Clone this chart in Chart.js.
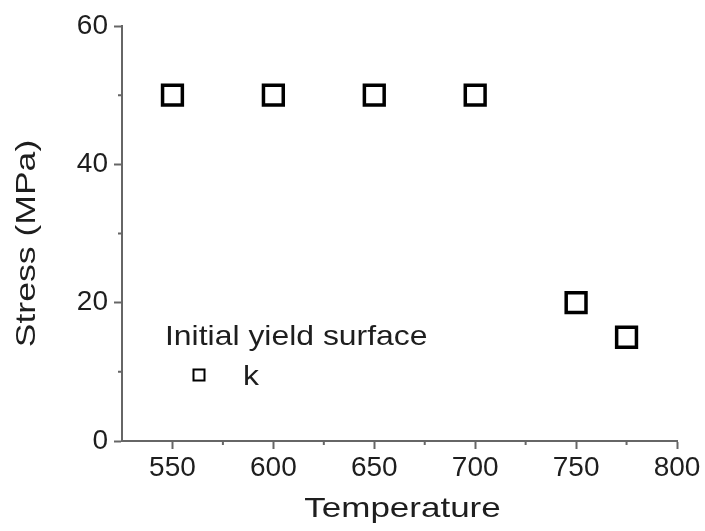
<!DOCTYPE html>
<html>
<head>
<meta charset="utf-8">
<script src="https://cdn.jsdelivr.net/npm/chart.js@4/dist/chart.umd.min.js"></script>
<style>
  body { margin: 0; background: #fff; }
  canvas { display: block; }
</style>
</head>
<body>
<canvas id="chart" width="705" height="531"></canvas>
<script>
// Initial yield surface, k
const temperatures = [550, 600, 650, 700, 750, 775];
const stressK = [50, 50, 50, 50, 20, 15];

const xMajorTicks = [550, 600, 650, 700, 750, 800];
const xMinorTicks = [575, 625, 675, 725, 775];
const yMajorTicks = [0, 20, 40, 60];
const yMinorTicks = [10, 30, 50];

const xTitle = 'Temperature';
const yTitle = 'Stress (MPa)';
const legendTitle = 'Initial yield surface';
const seriesName = 'k';

const FONT = "'Liberation Sans', Arial, sans-serif";
const AXIS_GREY = '#666';
const TEXT = '#1e1e1e';

// the source figure's text is a bit stretched sideways
function stretchedText(ctx, text, x, y, opts) {
    ctx.save();
    ctx.translate(x, y);
    if (opts.rotate) ctx.rotate(opts.rotate);
    ctx.scale(opts.sx || 1, 1);
    ctx.font = opts.size + 'px ' + FONT;
    ctx.fillStyle = TEXT;
    ctx.textAlign = opts.align || 'center';
    ctx.textBaseline = 'middle';
    ctx.fillText(text, 0, 0);
    ctx.restore();
}

// minor tick marks, axis titles, in-plot legend
const extras = {
    id: 'extras',
    afterDraw(chart) {
        const ctx = chart.ctx;
        const x = chart.scales.x, y = chart.scales.y;
        const area = chart.chartArea;
        ctx.save();
        ctx.strokeStyle = AXIS_GREY;
        ctx.lineWidth = 2;
        ctx.beginPath();
        xMinorTicks.forEach(v => {
            const px = x.getPixelForValue(v);
            ctx.moveTo(px, area.bottom);
            ctx.lineTo(px, area.bottom + 4);
        });
        yMinorTicks.forEach(v => {
            const py = y.getPixelForValue(v);
            ctx.moveTo(area.left, py);
            ctx.lineTo(area.left - 4, py);
        });
        ctx.stroke();

        stretchedText(ctx, xTitle, (area.left + area.right) / 2 + 3, 509, { size: 28, sx: 1.25 });
        stretchedText(ctx, yTitle, 27, (area.top + area.bottom) / 2 + 10, { size: 28, sx: 1.27, rotate: -Math.PI / 2 });

        // legend
        stretchedText(ctx, legendTitle, 165, 337, { size: 28, sx: 1.14, align: 'left' });
        stretchedText(ctx, seriesName, 243, 377, { size: 28, sx: 1.14, align: 'left' });
        ctx.strokeStyle = '#000';
        ctx.lineWidth = 2;
        ctx.strokeRect(193.5, 369.5, 11, 11);
        ctx.restore();
    }
};

new Chart(document.getElementById('chart'), {
    type: 'scatter',
    data: {
        datasets: [{
            label: seriesName,
            data: temperatures.map((t, i) => ({ x: t, y: stressK[i] })),
            pointStyle: 'rect',
            pointRadius: 14,
            pointHoverRadius: 14,
            borderColor: '#000',
            backgroundColor: 'rgba(0,0,0,0)',
            borderWidth: 3.5
        }]
    },
    options: {
        responsive: false,
        animation: false,
        layout: { padding: { top: 26, right: 28, left: 0, bottom: 0 } },
        plugins: {
            legend: { display: false },
            tooltip: { enabled: false }
        },
        scales: {
            x: {
                type: 'linear',
                min: 525,
                max: 800,
                afterBuildTicks: s => { s.ticks = xMajorTicks.map(v => ({ value: v })); },
                afterFit: s => { s.height = 90; },
                grid: {
                    drawOnChartArea: false,
                    drawTicks: true,
                    tickLength: 8,
                    tickWidth: 2,
                    tickColor: AXIS_GREY
                },
                border: { display: true, color: AXIS_GREY, width: 2 },
                ticks: {
                    color: TEXT,
                    font: { family: FONT, size: 28 },
                    padding: 2,
                    maxRotation: 0
                }
            },
            y: {
                min: 0,
                max: 60,
                afterBuildTicks: s => { s.ticks = yMajorTicks.map(v => ({ value: v })); },
                afterFit: s => { s.width = 122; },
                grid: {
                    drawOnChartArea: false,
                    drawTicks: true,
                    tickLength: 8,
                    tickWidth: 2,
                    tickColor: AXIS_GREY
                },
                border: { display: true, color: AXIS_GREY, width: 2 },
                ticks: {
                    color: TEXT,
                    font: { family: FONT, size: 28 },
                    padding: 6
                }
            }
        }
    },
    plugins: [extras]
});
</script>
</body>
</html>
